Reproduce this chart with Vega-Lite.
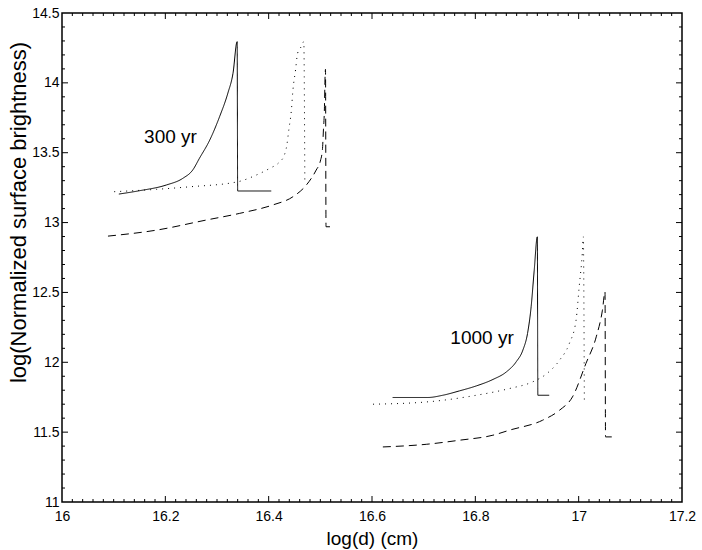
{
  "$schema": "https://vega.github.io/schema/vega-lite/v6.json",
  "width": 620,
  "height": 489,
  "autosize": {"type": "none"},
  "padding": {"left": 62, "top": 13, "right": 20, "bottom": 48},
  "background": "white",
  "datasets": {
    "curves": [
      {"series": "300-solid", "style": "solid", "i": 0, "d": 16.110, "b": 13.204},
      {"series": "300-solid", "style": "solid", "i": 1, "d": 16.150, "b": 13.228},
      {"series": "300-solid", "style": "solid", "i": 2, "d": 16.202, "b": 13.269},
      {"series": "300-solid", "style": "solid", "i": 3, "d": 16.234, "b": 13.317},
      {"series": "300-solid", "style": "solid", "i": 4, "d": 16.253, "b": 13.376},
      {"series": "300-solid", "style": "solid", "i": 5, "d": 16.266, "b": 13.460},
      {"series": "300-solid", "style": "solid", "i": 6, "d": 16.286, "b": 13.591},
      {"series": "300-solid", "style": "solid", "i": 7, "d": 16.305, "b": 13.758},
      {"series": "300-solid", "style": "solid", "i": 8, "d": 16.321, "b": 13.926},
      {"series": "300-solid", "style": "solid", "i": 9, "d": 16.331, "b": 14.069},
      {"series": "300-solid", "style": "solid", "i": 10, "d": 16.339, "b": 14.295},
      {"series": "300-solid", "style": "solid", "i": 11, "d": 16.340, "b": 13.226},
      {"series": "300-solid", "style": "solid", "i": 12, "d": 16.405, "b": 13.226},

      {"series": "300-dotted", "style": "dotted", "i": 0, "d": 16.101, "b": 13.221},
      {"series": "300-dotted", "style": "dotted", "i": 1, "d": 16.183, "b": 13.238},
      {"series": "300-dotted", "style": "dotted", "i": 2, "d": 16.247, "b": 13.256},
      {"series": "300-dotted", "style": "dotted", "i": 3, "d": 16.340, "b": 13.292},
      {"series": "300-dotted", "style": "dotted", "i": 4, "d": 16.376, "b": 13.340},
      {"series": "300-dotted", "style": "dotted", "i": 5, "d": 16.402, "b": 13.388},
      {"series": "300-dotted", "style": "dotted", "i": 6, "d": 16.420, "b": 13.430},
      {"series": "300-dotted", "style": "dotted", "i": 7, "d": 16.430, "b": 13.480},
      {"series": "300-dotted", "style": "dotted", "i": 8, "d": 16.435, "b": 13.550},
      {"series": "300-dotted", "style": "dotted", "i": 9, "d": 16.439, "b": 13.663},
      {"series": "300-dotted", "style": "dotted", "i": 10, "d": 16.444, "b": 13.806},
      {"series": "300-dotted", "style": "dotted", "i": 11, "d": 16.447, "b": 13.949},
      {"series": "300-dotted", "style": "dotted", "i": 12, "d": 16.452, "b": 14.092},
      {"series": "300-dotted", "style": "dotted", "i": 13, "d": 16.456, "b": 14.212},
      {"series": "300-dotted", "style": "dotted", "i": 14, "d": 16.463, "b": 14.259},
      {"series": "300-dotted", "style": "dotted", "i": 15, "d": 16.468, "b": 14.295},
      {"series": "300-dotted", "style": "dotted", "i": 16, "d": 16.470, "b": 13.281},

      {"series": "300-dashed", "style": "dashed", "i": 0, "d": 16.089, "b": 12.903},
      {"series": "300-dashed", "style": "dashed", "i": 1, "d": 16.183, "b": 12.946},
      {"series": "300-dashed", "style": "dashed", "i": 2, "d": 16.279, "b": 13.018},
      {"series": "300-dashed", "style": "dashed", "i": 3, "d": 16.344, "b": 13.066},
      {"series": "300-dashed", "style": "dashed", "i": 4, "d": 16.408, "b": 13.126},
      {"series": "300-dashed", "style": "dashed", "i": 5, "d": 16.447, "b": 13.185},
      {"series": "300-dashed", "style": "dashed", "i": 6, "d": 16.473, "b": 13.269},
      {"series": "300-dashed", "style": "dashed", "i": 7, "d": 16.492, "b": 13.376},
      {"series": "300-dashed", "style": "dashed", "i": 8, "d": 16.500, "b": 13.440},
      {"series": "300-dashed", "style": "dashed", "i": 9, "d": 16.504, "b": 13.520},
      {"series": "300-dashed", "style": "dashed", "i": 10, "d": 16.506, "b": 13.663},
      {"series": "300-dashed", "style": "dashed", "i": 11, "d": 16.508, "b": 13.829},
      {"series": "300-dashed", "style": "dashed", "i": 12, "d": 16.509, "b": 14.021},
      {"series": "300-dashed", "style": "dashed", "i": 13, "d": 16.510, "b": 14.097},
      {"series": "300-dashed", "style": "dashed", "i": 14, "d": 16.511, "b": 12.970},
      {"series": "300-dashed", "style": "dashed", "i": 15, "d": 16.520, "b": 12.970},

      {"series": "1000-solid", "style": "solid", "i": 0, "d": 16.640, "b": 11.748},
      {"series": "1000-solid", "style": "solid", "i": 1, "d": 16.708, "b": 11.748},
      {"series": "1000-solid", "style": "solid", "i": 2, "d": 16.737, "b": 11.764},
      {"series": "1000-solid", "style": "solid", "i": 3, "d": 16.769, "b": 11.795},
      {"series": "1000-solid", "style": "solid", "i": 4, "d": 16.802, "b": 11.831},
      {"series": "1000-solid", "style": "solid", "i": 5, "d": 16.834, "b": 11.877},
      {"series": "1000-solid", "style": "solid", "i": 6, "d": 16.860, "b": 11.931},
      {"series": "1000-solid", "style": "solid", "i": 7, "d": 16.879, "b": 12.003},
      {"series": "1000-solid", "style": "solid", "i": 8, "d": 16.892, "b": 12.087},
      {"series": "1000-solid", "style": "solid", "i": 9, "d": 16.901, "b": 12.206},
      {"series": "1000-solid", "style": "solid", "i": 10, "d": 16.908, "b": 12.397},
      {"series": "1000-solid", "style": "solid", "i": 11, "d": 16.914, "b": 12.660},
      {"series": "1000-solid", "style": "solid", "i": 12, "d": 16.920, "b": 12.898},
      {"series": "1000-solid", "style": "solid", "i": 13, "d": 16.921, "b": 11.764},
      {"series": "1000-solid", "style": "solid", "i": 14, "d": 16.943, "b": 11.764},

      {"series": "1000-dotted", "style": "dotted", "i": 0, "d": 16.602, "b": 11.700},
      {"series": "1000-dotted", "style": "dotted", "i": 1, "d": 16.705, "b": 11.716},
      {"series": "1000-dotted", "style": "dotted", "i": 2, "d": 16.802, "b": 11.764},
      {"series": "1000-dotted", "style": "dotted", "i": 3, "d": 16.866, "b": 11.812},
      {"series": "1000-dotted", "style": "dotted", "i": 4, "d": 16.911, "b": 11.860},
      {"series": "1000-dotted", "style": "dotted", "i": 5, "d": 16.937, "b": 11.915},
      {"series": "1000-dotted", "style": "dotted", "i": 6, "d": 16.963, "b": 12.015},
      {"series": "1000-dotted", "style": "dotted", "i": 7, "d": 16.982, "b": 12.135},
      {"series": "1000-dotted", "style": "dotted", "i": 8, "d": 16.995, "b": 12.302},
      {"series": "1000-dotted", "style": "dotted", "i": 9, "d": 17.001, "b": 12.540},
      {"series": "1000-dotted", "style": "dotted", "i": 10, "d": 17.007, "b": 12.779},
      {"series": "1000-dotted", "style": "dotted", "i": 11, "d": 17.009, "b": 12.898},
      {"series": "1000-dotted", "style": "dotted", "i": 12, "d": 17.011, "b": 11.705},

      {"series": "1000-dashed", "style": "dashed", "i": 0, "d": 16.621, "b": 11.394},
      {"series": "1000-dashed", "style": "dashed", "i": 1, "d": 16.705, "b": 11.413},
      {"series": "1000-dashed", "style": "dashed", "i": 2, "d": 16.769, "b": 11.442},
      {"series": "1000-dashed", "style": "dashed", "i": 3, "d": 16.834, "b": 11.478},
      {"series": "1000-dashed", "style": "dashed", "i": 4, "d": 16.866, "b": 11.514},
      {"series": "1000-dashed", "style": "dashed", "i": 5, "d": 16.930, "b": 11.585},
      {"series": "1000-dashed", "style": "dashed", "i": 6, "d": 16.963, "b": 11.657},
      {"series": "1000-dashed", "style": "dashed", "i": 7, "d": 16.988, "b": 11.752},
      {"series": "1000-dashed", "style": "dashed", "i": 8, "d": 17.014, "b": 11.991},
      {"series": "1000-dashed", "style": "dashed", "i": 9, "d": 17.034, "b": 12.182},
      {"series": "1000-dashed", "style": "dashed", "i": 10, "d": 17.046, "b": 12.373},
      {"series": "1000-dashed", "style": "dashed", "i": 11, "d": 17.051, "b": 12.504},
      {"series": "1000-dashed", "style": "dashed", "i": 12, "d": 17.052, "b": 11.466},
      {"series": "1000-dashed", "style": "dashed", "i": 13, "d": 17.066, "b": 11.466}
    ],
    "labels": [
      {"d": 16.21, "b": 13.61, "t": "300 yr"},
      {"d": 16.813, "b": 12.173, "t": "1000 yr"}
    ],
    "xmaj": [{"v": 16.2}, {"v": 16.4}, {"v": 16.6}, {"v": 16.8}, {"v": 17}],
    "xmin": [{"v":16.02},{"v":16.04},{"v":16.06},{"v":16.08},{"v":16.1},{"v":16.12},{"v":16.14},{"v":16.16},{"v":16.18},{"v":16.22},{"v":16.24},{"v":16.26},{"v":16.28},{"v":16.3},{"v":16.32},{"v":16.34},{"v":16.36},{"v":16.38},{"v":16.42},{"v":16.44},{"v":16.46},{"v":16.48},{"v":16.5},{"v":16.52},{"v":16.54},{"v":16.56},{"v":16.58},{"v":16.62},{"v":16.64},{"v":16.66},{"v":16.68},{"v":16.7},{"v":16.72},{"v":16.74},{"v":16.76},{"v":16.78},{"v":16.82},{"v":16.84},{"v":16.86},{"v":16.88},{"v":16.9},{"v":16.92},{"v":16.94},{"v":16.96},{"v":16.98},{"v":17.02},{"v":17.04},{"v":17.06},{"v":17.08},{"v":17.1},{"v":17.12},{"v":17.14},{"v":17.16},{"v":17.18}],
    "ymaj": [{"v": 11.5}, {"v": 12}, {"v": 12.5}, {"v": 13}, {"v": 13.5}, {"v": 14}],
    "ymin": [{"v":11.1},{"v":11.2},{"v":11.3},{"v":11.4},{"v":11.6},{"v":11.7},{"v":11.8},{"v":11.9},{"v":12.1},{"v":12.2},{"v":12.3},{"v":12.4},{"v":12.6},{"v":12.7},{"v":12.8},{"v":12.9},{"v":13.1},{"v":13.2},{"v":13.3},{"v":13.4},{"v":13.6},{"v":13.7},{"v":13.8},{"v":13.9},{"v":14.1},{"v":14.2},{"v":14.3},{"v":14.4}]
  },
  "layer": [
    {
      "data": {"name": "curves"},
      "mark": {"type": "line", "color": "#000", "strokeWidth": 1, "interpolate": "monotone"},
      "encoding": {
        "x": {"field": "d", "type": "quantitative",
              "scale": {"domain": [16, 17.2], "nice": false, "zero": false},
              "axis": {"orient": "bottom", "values": [16, 16.2, 16.4, 16.6, 16.8, 17, 17.2],
                       "labelOverlap": false, "labelFlush": false, "format": "~g",
                       "ticks": false, "labelPadding": 7,
                       "title": "log(d) (cm)", "titleFontSize": 19, "titleBaseline": "middle", "titleY": 36}},
        "y": {"field": "b", "type": "quantitative",
              "scale": {"domain": [11, 14.5], "nice": false, "zero": false},
              "axis": {"orient": "left", "values": [11, 11.5, 12, 12.5, 13, 13.5, 14, 14.5],
                       "labelOverlap": false, "labelFlush": false, "format": "~g",
                       "ticks": false, "labelPadding": 3,
                       "title": "log(Normalized surface brightness)", "titleFontSize": 22, "titleBaseline": "middle", "titleAlign": "center", "titleAngle": -90, "titleX": -44, "titleY": 199}},
        "detail": {"field": "series"},
        "order": {"field": "i", "type": "quantitative"},
        "strokeDash": {"field": "style", "type": "nominal", "legend": null,
                       "scale": {"domain": ["solid", "dotted", "dashed"], "range": [[1, 0], [1, 5], [8, 5]]}}
      }
    },
    {
      "data": {"name": "xmaj"},
      "mark": {"type": "rule", "color": "#000", "strokeWidth": 1, "y2Offset": -6},
      "encoding": {"x": {"field": "v", "type": "quantitative"}, "y": {"datum": 11, "type": "quantitative"}, "y2": {"datum": 11}}
    },
    {
      "data": {"name": "xmin"},
      "mark": {"type": "rule", "color": "#000", "strokeWidth": 1, "y2Offset": -3},
      "encoding": {"x": {"field": "v", "type": "quantitative"}, "y": {"datum": 11, "type": "quantitative"}, "y2": {"datum": 11}}
    },
    {
      "data": {"name": "xmaj"},
      "mark": {"type": "rule", "color": "#000", "strokeWidth": 1, "y2Offset": 6},
      "encoding": {"x": {"field": "v", "type": "quantitative"}, "y": {"datum": 14.5, "type": "quantitative"}, "y2": {"datum": 14.5}}
    },
    {
      "data": {"name": "xmin"},
      "mark": {"type": "rule", "color": "#000", "strokeWidth": 1, "y2Offset": 3},
      "encoding": {"x": {"field": "v", "type": "quantitative"}, "y": {"datum": 14.5, "type": "quantitative"}, "y2": {"datum": 14.5}}
    },
    {
      "data": {"name": "ymaj"},
      "mark": {"type": "rule", "color": "#000", "strokeWidth": 1, "x2Offset": 6},
      "encoding": {"y": {"field": "v", "type": "quantitative"}, "x": {"datum": 16, "type": "quantitative"}, "x2": {"datum": 16}}
    },
    {
      "data": {"name": "ymin"},
      "mark": {"type": "rule", "color": "#000", "strokeWidth": 1, "x2Offset": 3},
      "encoding": {"y": {"field": "v", "type": "quantitative"}, "x": {"datum": 16, "type": "quantitative"}, "x2": {"datum": 16}}
    },
    {
      "data": {"name": "ymaj"},
      "mark": {"type": "rule", "color": "#000", "strokeWidth": 1, "x2Offset": -6},
      "encoding": {"y": {"field": "v", "type": "quantitative"}, "x": {"datum": 17.2, "type": "quantitative"}, "x2": {"datum": 17.2}}
    },
    {
      "data": {"name": "ymin"},
      "mark": {"type": "rule", "color": "#000", "strokeWidth": 1, "x2Offset": -3},
      "encoding": {"y": {"field": "v", "type": "quantitative"}, "x": {"datum": 17.2, "type": "quantitative"}, "x2": {"datum": 17.2}}
    },
    {
      "data": {"name": "labels"},
      "mark": {"type": "text", "font": "Liberation Sans", "fontSize": 19, "color": "#000", "align": "center", "baseline": "middle"},
      "encoding": {
        "x": {"field": "d", "type": "quantitative"},
        "y": {"field": "b", "type": "quantitative"},
        "text": {"field": "t", "type": "nominal"}
      }
    }
  ],
  "config": {
    "view": {"stroke": "#000", "strokeWidth": 1.5},
    "axis": {"domain": false, "grid": false, "labelFont": "Liberation Sans", "labelFontSize": 14, "labelColor": "#000",
             "titleFont": "Liberation Sans", "titleFontWeight": "normal", "titleColor": "#000"}
  }
}
